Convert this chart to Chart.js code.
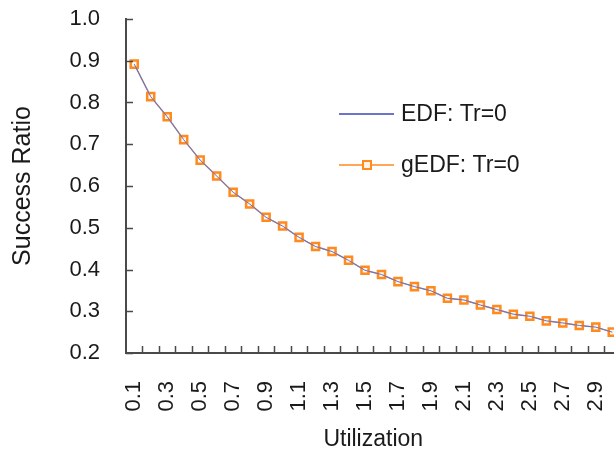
<!DOCTYPE html>
<html lang="en">
<head>
    <meta charset="UTF-8">
    <title>Success Ratio vs Utilization</title>
    <script src="https://cdn.jsdelivr.net/npm/chart.js"></script>
    <style>
        html, body { margin: 0; padding: 0; background: #fff; overflow: hidden; }
        #wrap { width: 628px; height: 453px; }
    </style>
</head>
<body>
    <div id="wrap"><canvas id="ratioChart" width="628" height="453"></canvas></div>

    <script>
        // utilization categories 0.1 .. 3.0
        const utilization = ['0.1','0.2','0.3','0.4','0.5','0.6','0.7','0.8','0.9','1.0',
                             '1.1','1.2','1.3','1.4','1.5','1.6','1.7','1.8','1.9','2.0',
                             '2.1','2.2','2.3','2.4','2.5','2.6','2.7','2.8','2.9','3.0'];

        const edfTr0 = [0.892, 0.814, 0.766, 0.711, 0.662, 0.624, 0.585, 0.557, 0.525, 0.504,
                        0.477, 0.455, 0.443, 0.422, 0.398, 0.388, 0.371, 0.359, 0.349, 0.331,
                        0.327, 0.315, 0.304, 0.293, 0.288, 0.277, 0.272, 0.266, 0.262, 0.250];

        const gedfTr0 = [0.892, 0.814, 0.766, 0.711, 0.662, 0.624, 0.585, 0.557, 0.525, 0.504,
                         0.477, 0.455, 0.443, 0.422, 0.398, 0.388, 0.371, 0.359, 0.349, 0.331,
                         0.327, 0.315, 0.304, 0.293, 0.288, 0.277, 0.272, 0.266, 0.262, 0.250];

        const yTicks = [0.2, 0.3, 0.4, 0.5, 0.6, 0.7, 0.8, 0.9, 1.0];

        const FONT = 'Liberation Sans, Arial, sans-serif';
        const AXIS = '#4a4a4a';
        const TEXT = '#1a1a1a';
        const BLUE = '#6b74c8';
        const ORANGE = '#ff8a1e';

        // inward tick marks on both axes
        const innerTicks = {
            id: 'innerTicks',
            afterDraw(chart) {
                const ctx = chart.ctx;
                const x = chart.scales.x, y = chart.scales.y;
                ctx.save();
                ctx.strokeStyle = AXIS;
                ctx.lineWidth = 1.5;
                ctx.beginPath();
                yTicks.forEach(v => {
                    const py = Math.round(y.getPixelForValue(v)) + 0.5;
                    ctx.moveTo(x.left, py);
                    ctx.lineTo(x.left + 7, py);
                });
                const half = (x.getPixelForValue(1) - x.getPixelForValue(0)) / 2;
                for (let i = 0; i < utilization.length; i++) {
                    const px = Math.round(x.getPixelForValue(i) + half) + 0.5;
                    ctx.moveTo(px, y.bottom);
                    ctx.lineTo(px, y.bottom - 7);
                }
                ctx.stroke();
                ctx.restore();
            }
        };

        // legend drawn inside the plot
        const innerLegend = {
            id: 'innerLegend',
            afterDraw(chart) {
                const ctx = chart.ctx;
                const rows = [
                    { text: 'EDF: Tr=0', color: BLUE, marker: false, y: 114 },
                    { text: 'gEDF: Tr=0', color: ORANGE, marker: true, y: 165 }
                ];
                ctx.save();
                ctx.font = '23px ' + FONT;
                ctx.textBaseline = 'middle';
                rows.forEach(r => {
                    ctx.strokeStyle = r.color;
                    ctx.lineWidth = r.marker ? 1.5 : 2;
                    ctx.beginPath();
                    ctx.moveTo(339, r.y);
                    ctx.lineTo(394, r.y);
                    ctx.stroke();
                    if (r.marker) {
                        ctx.fillStyle = '#fff3e6';
                        ctx.lineWidth = 2;
                        ctx.fillRect(363, r.y - 4, 8, 8);
                        ctx.strokeRect(363, r.y - 4, 8, 8);
                    }
                    ctx.fillStyle = TEXT;
                    ctx.fillText(r.text, 401, r.y + 1);
                });
                ctx.restore();
            }
        };

        const ctx = document.getElementById('ratioChart').getContext('2d');
        new Chart(ctx, {
            type: 'line',
            data: {
                labels: utilization,
                datasets: [
                    {
                        label: 'EDF: Tr=0',
                        data: edfTr0,
                        borderColor: BLUE,
                        borderWidth: 1,
                        pointRadius: 0,
                        tension: 0,
                        fill: false
                    },
                    {
                        label: 'gEDF: Tr=0',
                        data: gedfTr0,
                        borderColor: '#c08a72',
                        borderWidth: 1.5,
                        pointStyle: 'rect',
                        pointRadius: 5,
                        pointBorderWidth: 2.5,
                        pointBorderColor: ORANGE,
                        pointBackgroundColor: 'rgba(255,245,235,0.9)',
                        tension: 0,
                        fill: false
                    }
                ]
            },
            options: {
                responsive: false,
                animation: false,
                layout: { padding: { top: 19, left: 0, right: 0, bottom: 0 } },
                plugins: {
                    legend: { display: false },
                    tooltip: { enabled: false }
                },
                scales: {
                    x: {
                        type: 'category',
                        offset: true,
                        grid: { display: false, drawTicks: false },
                        border: { display: true, color: AXIS, width: 2 },
                        ticks: {
                            autoSkip: false,
                            minRotation: 90,
                            maxRotation: 90,
                            padding: 28,
                            color: TEXT,
                            font: { family: FONT, size: 22 },
                            callback: (v, i) => (i % 2 === 0 ? utilization[i] : '')
                        },
                        title: {
                            display: true,
                            text: 'Utilization',
                            color: TEXT,
                            font: { family: FONT, size: 23 },
                            padding: { top: 0, bottom: 0 }
                        },
                        afterFit: s => {
                            s.height = 100;
                            s.paddingLeft = 0;
                            s.paddingRight = 0;
                        }
                    },
                    y: {
                        min: 0.2,
                        max: 1.0,
                        grid: { display: false, drawTicks: false },
                        border: { display: true, color: AXIS, width: 2 },
                        afterBuildTicks: s => { s.ticks = yTicks.map(v => ({ value: v })); },
                        ticks: {
                            padding: 26,
                            color: TEXT,
                            font: { family: FONT, size: 22 },
                            callback: v => Number(v).toFixed(1)
                        },
                        title: {
                            display: true,
                            text: 'Success Ratio',
                            color: TEXT,
                            font: { family: FONT, size: 25 },
                            padding: { top: 8, bottom: 0 }
                        },
                        afterFit: s => {
                            s.width = 126;
                            s.paddingTop = 0;
                            s.paddingBottom = 0;
                        }
                    }
                }
            },
            plugins: [innerTicks, innerLegend]
        });
    </script>
</body>
</html>
